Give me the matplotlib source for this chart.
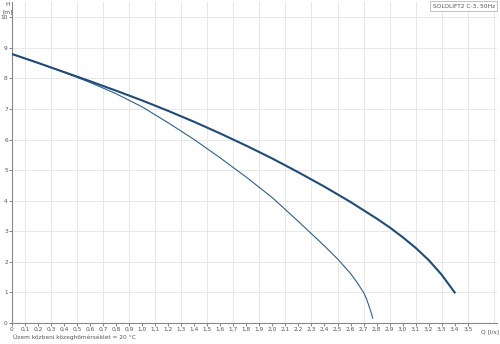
import numpy as np
import matplotlib.pyplot as plt

# curve data (Q in l/s, H in m)
q_main = [0.0, 0.2, 0.4, 0.6, 0.8, 1.0, 1.2, 1.4, 1.6, 1.8, 2.0, 2.2, 2.4, 2.6, 2.8, 2.9, 3.0,
          3.1, 3.2, 3.3, 3.4]
h_main = [8.80, 8.51, 8.21, 7.91, 7.60, 7.28, 6.94, 6.58, 6.20, 5.80, 5.38, 4.93, 4.46, 3.96, 3.42,
          3.13, 2.81, 2.46, 2.06, 1.58, 1.0]

q_sys = [0.0, 0.2, 0.4, 0.6, 0.8, 1.0, 1.2, 1.4, 1.6, 1.8, 2.0, 2.2, 2.3, 2.4, 2.5, 2.6, 2.65,
         2.7, 2.72, 2.74, 2.76, 2.77]
h_sys = [8.80, 8.51, 8.20, 7.87, 7.50, 7.07, 6.55, 6.00, 5.40, 4.77, 4.10, 3.32, 2.92, 2.52, 2.10,
         1.62, 1.33, 1.00, 0.82, 0.58, 0.32, 0.16]

x_ticks = [round(0.1 * i, 1) for i in range(36)]
y_ticks = list(range(0, 11))

fig = plt.figure(figsize=(5, 3.44), dpi=100)
ax = fig.add_axes([0.024, 0.061, 0.97, 0.933])

ax.set_xlim(0, 3.725)
ax.set_ylim(0, 10.5)

# grid
for gx in np.arange(0.1, 3.75, 0.2):
    ax.axvline(gx, color='#e4e4e4', lw=0.6, zorder=0)
for gy in range(1, 11):
    ax.axhline(gy, color='#e4e4e4', lw=0.6, zorder=0)

ax.plot(q_main, h_main, color='#1f4b78', lw=1.5, zorder=3, solid_joinstyle='round')
ax.plot(q_sys, h_sys, color='#2f5f8e', lw=0.8, zorder=2, solid_joinstyle='round')

ax.set_xticks(x_ticks)
ax.set_xticklabels(['0' if v == 0 else f"{v:.1f}".replace('.', ',') for v in x_ticks])
ax.set_yticks(y_ticks)
ax.set_yticklabels([str(v) for v in y_ticks])
ax.tick_params(axis='both', labelsize=4.2, colors='#555555', length=2, width=0.5, pad=1)

for s in ['top', 'right']:
    ax.spines[s].set_visible(False)
for s in ['left', 'bottom']:
    ax.spines[s].set_color('#888888')
    ax.spines[s].set_linewidth(0.8)

fig.text(0.016, 0.993, 'H', fontsize=4.2, color='#555555', ha='center', va='top')
fig.text(0.016, 0.972, '[m]', fontsize=4.2, color='#555555', ha='center', va='top')
fig.text(0.98, 0.043, 'Q [l/s]', fontsize=4.2, color='#555555', ha='center', va='top')
fig.text(0.026, 0.012, 'Üzem közbeni közeghőmérséklet = 20 °C', fontsize=4.2,
         color='#555555', ha='left', va='bottom')
fig.text(0.99, 0.99, 'SOLOLIFT2 C-3, 50Hz', fontsize=4.2, color='#555555', ha='right', va='top',
         bbox=dict(boxstyle='square,pad=0.4', fc='white', ec='#aaaaaa', lw=0.5))

fig.savefig('out.png', dpi=100)
